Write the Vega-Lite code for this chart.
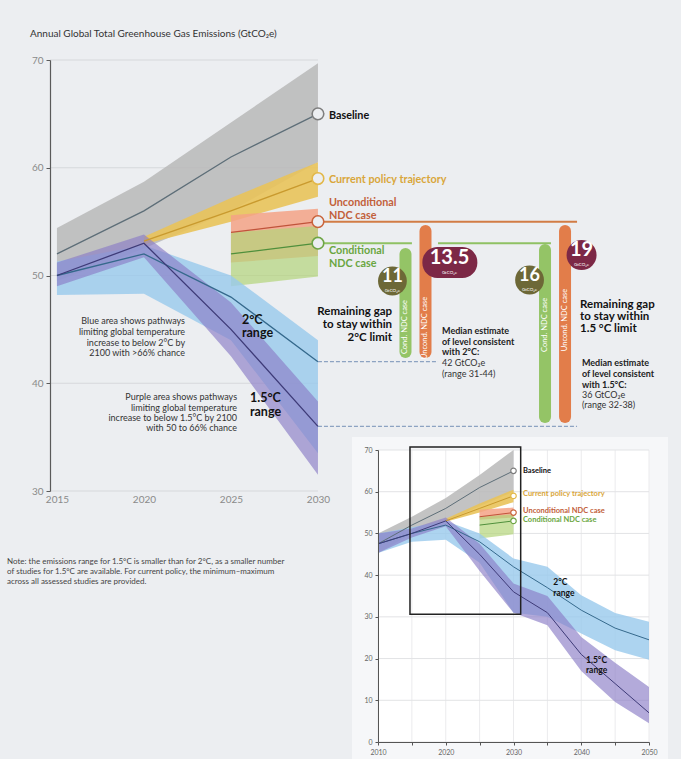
{
"$schema":"https://vega.github.io/schema/vega-lite/v6.json",
"width":631,"height":431,"padding":{"left":50,"top":60,"right":0,"bottom":268},"autosize":{"type":"none"},
"background":"#eceef1",
"config":{"view":{"stroke":null},"font":"Lato"},
"datasets":{
"m":[
{"s":"Baseline","x":2015,"lo":49.5,"m":52,"hi":54.4},
{"s":"Baseline","x":2020,"lo":52.5,"m":56,"hi":58.7},
{"s":"Baseline","x":2025,"lo":56,"m":61,"hi":64.2},
{"s":"Baseline","x":2030,"lo":60.5,"m":65,"hi":69.7},
{"s":"Current","x":2020,"lo":52.9,"m":53.2,"hi":53.6},
{"s":"Current","x":2025,"lo":55,"m":56,"hi":57.2},
{"s":"Current","x":2030,"lo":57.3,"m":59,"hi":60.5},
{"s":"Uncond","x":2025,"lo":51.2,"m":54,"hi":55.6},
{"s":"Uncond","x":2030,"lo":51.8,"m":55,"hi":56.2},
{"s":"Cond","x":2025,"lo":49,"m":52,"hi":54},
{"s":"Cond","x":2030,"lo":49.9,"m":53,"hi":54.6},
{"s":"2C","x":2015,"lo":48.2,"m":50,"hi":51.3},
{"s":"2C","x":2020,"lo":48.3,"m":52,"hi":52.8},
{"s":"2C","x":2025,"lo":44,"m":48,"hi":50},
{"s":"2C","x":2030,"lo":33.5,"m":42,"hi":44},
{"s":"1.5C","x":2015,"lo":49,"m":50,"hi":51.2},
{"s":"1.5C","x":2020,"lo":51.7,"m":53,"hi":53.8},
{"s":"1.5C","x":2025,"lo":42.5,"m":45,"hi":47.5},
{"s":"1.5C","x":2030,"lo":31.5,"m":36,"hi":38.3}
],
"i":[
{"s":"Baseline","x":2010,"lo":45.3,"m":47.5,"hi":50},
{"s":"Baseline","x":2015,"lo":50,"m":52,"hi":54},
{"s":"Baseline","x":2020,"lo":53,"m":56,"hi":58.5},
{"s":"Baseline","x":2025,"lo":56.5,"m":61,"hi":64},
{"s":"Baseline","x":2030,"lo":60,"m":65,"hi":70},
{"s":"Current","x":2020,"lo":52.8,"m":53,"hi":53.5},
{"s":"Current","x":2025,"lo":55,"m":56,"hi":57.2},
{"s":"Current","x":2030,"lo":57.5,"m":59,"hi":60.5},
{"s":"Uncond","x":2025,"lo":53.3,"m":54,"hi":55.7},
{"s":"Uncond","x":2030,"lo":53.8,"m":55,"hi":56.2},
{"s":"Cond","x":2025,"lo":48.8,"m":52,"hi":54},
{"s":"Cond","x":2030,"lo":49.8,"m":53,"hi":54.6},
{"s":"2C","x":2010,"lo":45.3,"m":47.5,"hi":50},
{"s":"2C","x":2015,"lo":48,"m":50,"hi":51.5},
{"s":"2C","x":2020,"lo":48.5,"m":52,"hi":53},
{"s":"2C","x":2025,"lo":43,"m":48,"hi":50},
{"s":"2C","x":2030,"lo":31,"m":42,"hi":44},
{"s":"2C","x":2035,"lo":30,"m":37,"hi":42},
{"s":"2C","x":2040,"lo":26,"m":31.6,"hi":35.2},
{"s":"2C","x":2045,"lo":22,"m":27.3,"hi":30.9},
{"s":"2C","x":2050,"lo":19.7,"m":24.5,"hi":28.8},
{"s":"1.5C","x":2010,"lo":45.3,"m":47.5,"hi":50},
{"s":"1.5C","x":2015,"lo":49,"m":50,"hi":51.2},
{"s":"1.5C","x":2020,"lo":51.7,"m":53,"hi":53.8},
{"s":"1.5C","x":2025,"lo":41,"m":45,"hi":47.5},
{"s":"1.5C","x":2030,"lo":31,"m":36,"hi":38},
{"s":"1.5C","x":2035,"lo":28,"m":31,"hi":35},
{"s":"1.5C","x":2040,"lo":17,"m":21,"hi":25.2},
{"s":"1.5C","x":2045,"lo":9.6,"m":14,"hi":19},
{"s":"1.5C","x":2050,"lo":4.5,"m":7,"hi":13.2}
],
"mk":[
{"s":"Baseline","x":2030,"y":65},
{"s":"Current","x":2030,"y":59},
{"s":"Uncond","x":2030,"y":55},
{"s":"Cond","x":2030,"y":53}
]
},
"layer":[
{"data":{"values":[{"y":30},{"y":40},{"y":50},{"y":60},{"y":70}]},
 "mark":{"type":"rule","color":"#d6d8db","strokeWidth":1},
 "encoding":{
  "x":{"datum":2014.6,"type":"quantitative","scale":{"domain":[2014.6,2050],"range":[0,615.96],"nice":false,"zero":false},"axis":null},
  "x2":{"datum":2030},
  "y":{"field":"y","type":"quantitative","scale":{"domain":[30,70],"range":[431,0],"nice":false,"zero":false},"axis":null}}},
{"data":{"name":"m"},"transform":[{"filter":"datum.s==='Baseline'"}],
 "mark":{"type":"area","color":"#b9b9b9","opacity":0.85},
 "encoding":{
  "x":{"field":"x","type":"quantitative","scale":{"domain":[2014.6,2050],"range":[0,615.96],"nice":false,"zero":false},"axis":null},
  "y":{"field":"lo","type":"quantitative","scale":{"domain":[30,70],"range":[431,0],"nice":false,"zero":false},"axis":null},
  "y2":{"field":"hi"}}},
{"data":{"name":"m"},"transform":[{"filter":"datum.s==='Current'"}],
 "mark":{"type":"area","color":"#e9c35a","opacity":0.9},
 "encoding":{
  "x":{"field":"x","type":"quantitative","scale":{"domain":[2014.6,2050],"range":[0,615.96],"nice":false,"zero":false},"axis":null},
  "y":{"field":"lo","type":"quantitative","scale":{"domain":[30,70],"range":[431,0],"nice":false,"zero":false},"axis":null},
  "y2":{"field":"hi"}}},
{"data":{"name":"m"},"transform":[{"filter":"datum.s==='Uncond'"}],
 "mark":{"type":"area","color":"#f4a286","opacity":0.85},
 "encoding":{
  "x":{"field":"x","type":"quantitative","scale":{"domain":[2014.6,2050],"range":[0,615.96],"nice":false,"zero":false},"axis":null},
  "y":{"field":"lo","type":"quantitative","scale":{"domain":[30,70],"range":[431,0],"nice":false,"zero":false},"axis":null},
  "y2":{"field":"hi"}}},
{"data":{"name":"m"},"transform":[{"filter":"datum.s==='Cond'"}],
 "mark":{"type":"area","color":"#b4d47a","opacity":0.7},
 "encoding":{
  "x":{"field":"x","type":"quantitative","scale":{"domain":[2014.6,2050],"range":[0,615.96],"nice":false,"zero":false},"axis":null},
  "y":{"field":"lo","type":"quantitative","scale":{"domain":[30,70],"range":[431,0],"nice":false,"zero":false},"axis":null},
  "y2":{"field":"hi"}}},
{"data":{"name":"m"},"transform":[{"filter":"datum.s==='2C'"}],
 "mark":{"type":"area","color":"#98c9ec","opacity":0.8},
 "encoding":{
  "x":{"field":"x","type":"quantitative","scale":{"domain":[2014.6,2050],"range":[0,615.96],"nice":false,"zero":false},"axis":null},
  "y":{"field":"lo","type":"quantitative","scale":{"domain":[30,70],"range":[431,0],"nice":false,"zero":false},"axis":null},
  "y2":{"field":"hi"}}},
{"data":{"name":"m"},"transform":[{"filter":"datum.s==='1.5C'"}],
 "mark":{"type":"area","color":"#8a7cc6","opacity":0.65},
 "encoding":{
  "x":{"field":"x","type":"quantitative","scale":{"domain":[2014.6,2050],"range":[0,615.96],"nice":false,"zero":false},"axis":null},
  "y":{"field":"lo","type":"quantitative","scale":{"domain":[30,70],"range":[431,0],"nice":false,"zero":false},"axis":null},
  "y2":{"field":"hi"}}},
{"data":{"name":"m"},
 "mark":{"type":"line","strokeWidth":1.3},
 "encoding":{
  "x":{"field":"x","type":"quantitative","scale":{"domain":[2014.6,2050],"range":[0,615.96],"nice":false,"zero":false},
   "axis":{"orient":"bottom","values":[2015,2020,2025,2030],"format":"d","title":null,"domain":false,"ticks":false,"grid":false,"labelColor":"#8a8a8a","labelFontSize":10,"labelPadding":3,"labelFlush":false,"zindex":1}},
  "y":{"field":"m","type":"quantitative","scale":{"domain":[30,70],"range":[431,0],"nice":false,"zero":false},
   "axis":{"orient":"left","values":[30,40,50,60,70],"title":null,"grid":false,"domainColor":"#5a5a5a","domainWidth":1.2,"tickColor":"#5a5a5a","tickSize":4,"labelColor":"#8a8a8a","labelFontSize":10,"labelPadding":3,"labelFlush":false,"zindex":1}},
  "color":{"field":"s","type":"nominal","legend":null,"scale":{"domain":["Baseline","Current","Uncond","Cond","2C","1.5C"],"range":["#5d6e78","#c99a2e","#c0533a","#4f8f3c","#35698c","#3e3b78"]}}}},
{"data":{"values":[{"x":2030,"x2":2036.9,"y":42},{"x":2030,"x2":2044.89,"y":36}]},
 "mark":{"type":"rule","color":"#8da3c2","strokeDash":[4,2],"strokeWidth":1.2},
 "encoding":{
  "x":{"field":"x","type":"quantitative","scale":{"domain":[2014.6,2050],"range":[0,615.96],"nice":false,"zero":false},"axis":null},
  "x2":{"field":"x2"},
  "y":{"field":"y","type":"quantitative","scale":{"domain":[30,70],"range":[431,0],"nice":false,"zero":false},"axis":null}}},
{"data":{"values":[{"x":2030,"x2":2044.89,"y":55}]},
 "mark":{"type":"rule","color":"#d27c45","strokeWidth":2},
 "encoding":{
  "x":{"field":"x","type":"quantitative","scale":{"domain":[2014.6,2050],"range":[0,615.96],"nice":false,"zero":false},"axis":null},
  "x2":{"field":"x2"},
  "y":{"field":"y","type":"quantitative","scale":{"domain":[30,70],"range":[431,0],"nice":false,"zero":false},"axis":null}}},
{"data":{"values":[{"x":2030,"x2":2035.4,"y":53},{"x":2036.9,"x2":2043.39,"y":53}]},
 "mark":{"type":"rule","color":"#8fc163","strokeWidth":2},
 "encoding":{
  "x":{"field":"x","type":"quantitative","scale":{"domain":[2014.6,2050],"range":[0,615.96],"nice":false,"zero":false},"axis":null},
  "x2":{"field":"x2"},
  "y":{"field":"y","type":"quantitative","scale":{"domain":[30,70],"range":[431,0],"nice":false,"zero":false},"axis":null}}},
{"data":{"values":[{"x":2035.03,"y":52.0,"y2":42.9},{"x":2043.05,"y":52.37,"y2":36.87}]},
 "mark":{"type":"rule","color":"#94c466","strokeWidth":12,"strokeCap":"round"},
 "encoding":{
  "x":{"field":"x","type":"quantitative","scale":{"domain":[2014.6,2050],"range":[0,615.96],"nice":false,"zero":false},"axis":null},
  "y":{"field":"y","type":"quantitative","scale":{"domain":[30,70],"range":[431,0],"nice":false,"zero":false},"axis":null},
  "y2":{"field":"y2"}}},
{"data":{"values":[{"x":2036.18,"y":54.13,"y2":42.9},{"x":2044.2,"y":54.13,"y2":36.87}]},
 "mark":{"type":"rule","color":"#e27d4a","strokeWidth":12,"strokeCap":"round"},
 "encoding":{
  "x":{"field":"x","type":"quantitative","scale":{"domain":[2014.6,2050],"range":[0,615.96],"nice":false,"zero":false},"axis":null},
  "y":{"field":"y","type":"quantitative","scale":{"domain":[30,70],"range":[431,0],"nice":false,"zero":false},"axis":null},
  "y2":{"field":"y2"}}},
{"data":{"values":[{"x":2035.03,"y":45.22,"t":"Cond. NDC case"},{"x":2036.18,"y":45.13,"t":"Uncond. NDC case"},{"x":2043.05,"y":45.41,"t":"Cond. NDC case"},{"x":2044.2,"y":45.87,"t":"Uncond. NDC case"}]},
 "mark":{"type":"text","angle":270,"color":"#ffffff","fontSize":7.5,"align":"center","baseline":"middle"},
 "encoding":{
  "x":{"field":"x","type":"quantitative","scale":{"domain":[2014.6,2050],"range":[0,615.96],"nice":false,"zero":false},"axis":null},
  "y":{"field":"y","type":"quantitative","scale":{"domain":[30,70],"range":[431,0],"nice":false,"zero":false},"axis":null},
  "text":{"field":"t"}}},
{"data":{"values":[{"x":2034.28,"y":49.49},{"x":2042.16,"y":49.58}]},
 "mark":{"type":"point","shape":"circle","filled":true,"color":"#6d6837","opacity":1,"size":830},
 "encoding":{
  "x":{"field":"x","type":"quantitative","scale":{"domain":[2014.6,2050],"range":[0,615.96],"nice":false,"zero":false},"axis":null},
  "y":{"field":"y","type":"quantitative","scale":{"domain":[30,70],"range":[431,0],"nice":false,"zero":false},"axis":null}}},
{"data":{"values":[{"x":2045.15,"y":51.9}]},
 "mark":{"type":"point","shape":"circle","filled":true,"color":"#7c2846","opacity":1,"size":900},
 "encoding":{
  "x":{"field":"x","type":"quantitative","scale":{"domain":[2014.6,2050],"range":[0,615.96],"nice":false,"zero":false},"axis":null},
  "y":{"field":"y","type":"quantitative","scale":{"domain":[30,70],"range":[431,0],"nice":false,"zero":false},"axis":null}}},
{"data":{"values":[{"x":2036.0,"x2":2039.16,"y":52.65,"y2":49.77}]},
 "mark":{"type":"rect","color":"#7c2846","cornerRadius":15},
 "encoding":{
  "x":{"field":"x","type":"quantitative","scale":{"domain":[2014.6,2050],"range":[0,615.96],"nice":false,"zero":false},"axis":null},
  "x2":{"field":"x2"},
  "y":{"field":"y","type":"quantitative","scale":{"domain":[30,70],"range":[431,0],"nice":false,"zero":false},"axis":null},
  "y2":{"field":"y2"}}},
{"data":{"values":[{"x":2034.28,"y":49.86,"t":"11"},{"x":2042.16,"y":49.95,"t":"16"}]},
 "mark":{"type":"text","color":"#ffffff","fontSize":18,"fontWeight":"bold","align":"center","baseline":"middle"},
 "encoding":{
  "x":{"field":"x","type":"quantitative","scale":{"domain":[2014.6,2050],"range":[0,615.96],"nice":false,"zero":false},"axis":null},
  "y":{"field":"y","type":"quantitative","scale":{"domain":[30,70],"range":[431,0],"nice":false,"zero":false},"axis":null},
  "text":{"field":"t"}}},
{"data":{"values":[{"x":2037.56,"y":51.62,"t":"13.5"},{"x":2045.15,"y":52.37,"t":"19"}]},
 "mark":{"type":"text","color":"#ffffff","fontSize":20,"fontWeight":"bold","align":"center","baseline":"middle"},
 "encoding":{
  "x":{"field":"x","type":"quantitative","scale":{"domain":[2014.6,2050],"range":[0,615.96],"nice":false,"zero":false},"axis":null},
  "y":{"field":"y","type":"quantitative","scale":{"domain":[30,70],"range":[431,0],"nice":false,"zero":false},"axis":null},
  "text":{"field":"t"}}},
{"data":{"values":[{"x":2034.28,"y":48.56,"t":"GtCO₂e"},{"x":2037.56,"y":50.23,"t":"GtCO₂e"},{"x":2042.16,"y":48.65,"t":"GtCO₂e"},{"x":2045.15,"y":50.97,"t":"GtCO₂e"}]},
 "mark":{"type":"text","color":"#ffffff","fontSize":4.5,"align":"center","baseline":"middle"},
 "encoding":{
  "x":{"field":"x","type":"quantitative","scale":{"domain":[2014.6,2050],"range":[0,615.96],"nice":false,"zero":false},"axis":null},
  "y":{"field":"y","type":"quantitative","scale":{"domain":[30,70],"range":[431,0],"nice":false,"zero":false},"axis":null},
  "text":{"field":"t"}}},
{"data":{"name":"mk"},
 "mark":{"type":"point","shape":"circle","filled":true,"fill":"#eceef1","opacity":1,"size":135,"strokeWidth":1.6},
 "encoding":{
  "x":{"field":"x","type":"quantitative","scale":{"domain":[2014.6,2050],"range":[0,615.96],"nice":false,"zero":false},"axis":null},
  "y":{"field":"y","type":"quantitative","scale":{"domain":[30,70],"range":[431,0],"nice":false,"zero":false},"axis":null},
  "stroke":{"field":"s","type":"nominal","legend":null,"scale":{"domain":["Baseline","Current","Uncond","Cond"],"range":["#7d7d7d","#e2b84a","#c9643c","#6ea545"]}}}},
{"data":{"values":[{"s":"Baseline","x":2030.63,"y":64.8,"t":"Baseline"},{"s":"Current","x":2030.63,"y":58.86,"t":"Current policy trajectory"},{"s":"Uncond","x":2030.63,"y":56.72,"t":"Unconditional"},{"s":"Uncond","x":2030.63,"y":55.56,"t":"NDC case"},{"s":"Cond","x":2030.63,"y":52.26,"t":"Conditional"},{"s":"Cond","x":2030.63,"y":51.1,"t":"NDC case"}]},
 "mark":{"type":"text","fontSize":10.8,"fontWeight":"bold","align":"left","baseline":"middle"},
 "encoding":{
  "x":{"field":"x","type":"quantitative","scale":{"domain":[2014.6,2050],"range":[0,615.96],"nice":false,"zero":false},"axis":null},
  "y":{"field":"y","type":"quantitative","scale":{"domain":[30,70],"range":[431,0],"nice":false,"zero":false},"axis":null},
  "text":{"field":"t"},
  "fill":{"field":"s","type":"nominal","legend":null,"scale":{"domain":["Baseline","Current","Uncond","Cond"],"range":["#111111","#d9a63a","#c2603a","#6aa641"]}}}},
{"data":{"values":[{"x":2034.26,"y":46.61,"t":"Remaining gap"},{"x":2034.26,"y":45.41,"t":"to stay within"},{"x":2034.26,"y":44.2,"t":"2°C limit"}]},
 "mark":{"type":"text","fontSize":11.5,"fontWeight":"bold","color":"#111111","align":"right","baseline":"middle"},
 "encoding":{
  "x":{"field":"x","type":"quantitative","scale":{"domain":[2014.6,2050],"range":[0,615.96],"nice":false,"zero":false},"axis":null},
  "y":{"field":"y","type":"quantitative","scale":{"domain":[30,70],"range":[431,0],"nice":false,"zero":false},"axis":null},
  "text":{"field":"t"}}},
{"data":{"values":[{"x":2045.06,"y":47.26,"t":"Remaining gap"},{"x":2045.06,"y":46.12,"t":"to stay within"},{"x":2045.06,"y":45.0,"t":"1.5 °C limit"}]},
 "mark":{"type":"text","fontSize":11.5,"fontWeight":"bold","color":"#111111","align":"left","baseline":"middle"},
 "encoding":{
  "x":{"field":"x","type":"quantitative","scale":{"domain":[2014.6,2050],"range":[0,615.96],"nice":false,"zero":false},"axis":null},
  "y":{"field":"y","type":"quantitative","scale":{"domain":[30,70],"range":[431,0],"nice":false,"zero":false},"axis":null},
  "text":{"field":"t"}}},
{"data":{"values":[{"x":2037.13,"y":44.85,"t":"Median estimate"},{"x":2037.13,"y":43.86,"t":"of level consistent"},{"x":2037.13,"y":42.86,"t":"with 2°C:"},{"x":2045.17,"y":41.85,"t":"Median estimate"},{"x":2045.17,"y":40.86,"t":"of level consistent"},{"x":2045.17,"y":39.88,"t":"with 1.5°C:"}]},
 "mark":{"type":"text","fontSize":9,"fontWeight":"bold","color":"#222222","align":"left","baseline":"middle"},
 "encoding":{
  "x":{"field":"x","type":"quantitative","scale":{"domain":[2014.6,2050],"range":[0,615.96],"nice":false,"zero":false},"axis":null},
  "y":{"field":"y","type":"quantitative","scale":{"domain":[30,70],"range":[431,0],"nice":false,"zero":false},"axis":null},
  "text":{"field":"t"}}},
{"data":{"values":[{"x":2037.13,"y":41.87,"t":"42 GtCO₂e"},{"x":2037.13,"y":40.88,"t":"(range 31-44)"},{"x":2045.17,"y":38.91,"t":"36 GtCO₂e"},{"x":2045.17,"y":37.94,"t":"(range 32-38)"}]},
 "mark":{"type":"text","fontSize":9,"color":"#333333","align":"left","baseline":"middle"},
 "encoding":{
  "x":{"field":"x","type":"quantitative","scale":{"domain":[2014.6,2050],"range":[0,615.96],"nice":false,"zero":false},"axis":null},
  "y":{"field":"y","type":"quantitative","scale":{"domain":[30,70],"range":[431,0],"nice":false,"zero":false},"axis":null},
  "text":{"field":"t"}}},
{"data":{"values":[{"x":2025.63,"y":45.9,"t":"2°C"},{"x":2025.63,"y":44.63,"t":"range"},{"x":2026.09,"y":38.66,"t":"1.5°C"},{"x":2026.09,"y":37.3,"t":"range"}]},
 "mark":{"type":"text","fontSize":12.5,"fontWeight":"bold","color":"#111111","align":"left","baseline":"middle"},
 "encoding":{
  "x":{"field":"x","type":"quantitative","scale":{"domain":[2014.6,2050],"range":[0,615.96],"nice":false,"zero":false},"axis":null},
  "y":{"field":"y","type":"quantitative","scale":{"domain":[30,70],"range":[431,0],"nice":false,"zero":false},"axis":null},
  "text":{"field":"t"}}},
{"data":{"values":[{"x":2022.36,"y":45.78,"t":"Blue area shows pathways"},{"x":2022.36,"y":44.76,"t":"limiting global temperature"},{"x":2022.36,"y":43.74,"t":"increase to below 2°C by"},{"x":2022.36,"y":42.81,"t":"2100 with >66% chance"},{"x":2025.35,"y":38.72,"t":"Purple area shows pathways"},{"x":2025.35,"y":37.7,"t":"limiting global temperature"},{"x":2025.35,"y":36.77,"t":"increase to below 1.5°C by 2100"},{"x":2025.35,"y":35.85,"t":"with 50 to 66% chance"}]},
 "mark":{"type":"text","fontSize":9,"color":"#333333","align":"right","baseline":"middle"},
 "encoding":{
  "x":{"field":"x","type":"quantitative","scale":{"domain":[2014.6,2050],"range":[0,615.96],"nice":false,"zero":false},"axis":null},
  "y":{"field":"y","type":"quantitative","scale":{"domain":[30,70],"range":[431,0],"nice":false,"zero":false},"axis":null},
  "text":{"field":"t"}}},
{"data":{"values":[{"x":2012.13,"y":23.44,"t":"Note: the emissions range for 1.5°C is smaller than for 2°C, as a smaller number"},{"x":2012.13,"y":22.45,"t":"of studies for 1.5°C are available. For current policy, the minimum–maximum"},{"x":2012.13,"y":21.53,"t":"across all assessed studies are provided."}]},
 "mark":{"type":"text","fontSize":8,"color":"#444444","align":"left","baseline":"middle"},
 "encoding":{
  "x":{"field":"x","type":"quantitative","scale":{"domain":[2014.6,2050],"range":[0,615.96],"nice":false,"zero":false},"axis":null},
  "y":{"field":"y","type":"quantitative","scale":{"domain":[30,70],"range":[431,0],"nice":false,"zero":false},"axis":null},
  "text":{"field":"t"}}},
{"data":{"values":[{"x":2013.45,"y":72.41,"t":"Annual Global Total Greenhouse Gas Emissions (GtCO₂e)"}]},
 "mark":{"type":"text","fontSize":10,"color":"#333333","align":"left","baseline":"middle"},
 "encoding":{
  "x":{"field":"x","type":"quantitative","scale":{"domain":[2014.6,2050],"range":[0,615.96],"nice":false,"zero":false},"axis":null},
  "y":{"field":"y","type":"quantitative","scale":{"domain":[30,70],"range":[431,0],"nice":false,"zero":false},"axis":null},
  "text":{"field":"t"}}},
{"data":{"values":[{"a":1}]},
 "mark":{"type":"rect","color":"#f6f7f9"},
 "encoding":{
  "x":{"datum":2006.16,"type":"quantitative","scale":{"domain":[2010,2050],"range":[328,599],"nice":false,"zero":false},"axis":null},
  "x2":{"datum":2052.8},
  "y":{"datum":73.12,"type":"quantitative","scale":{"domain":[0,70],"range":[682,390],"nice":false,"zero":false},"axis":null},
  "y2":{"datum":-4.08}}},
{"data":{"values":[{"a":1}]},
 "mark":{"type":"rect","color":"#ffffff"},
 "encoding":{
  "x":{"datum":2010,"type":"quantitative","scale":{"domain":[2010,2050],"range":[328,599],"nice":false,"zero":false},"axis":null},
  "x2":{"datum":2050},
  "y":{"datum":0,"type":"quantitative","scale":{"domain":[0,70],"range":[682,390],"nice":false,"zero":false},"axis":null},
  "y2":{"datum":70}}},
{"data":{"values":[{"x":2010},{"x":2015},{"x":2020},{"x":2025},{"x":2030},{"x":2035},{"x":2040},{"x":2045},{"x":2050}]},
 "mark":{"type":"rule","color":"#ebebed","strokeWidth":1},
 "encoding":{
  "x":{"field":"x","type":"quantitative","scale":{"domain":[2010,2050],"range":[328,599],"nice":false,"zero":false},"axis":null},
  "y":{"datum":0,"type":"quantitative","scale":{"domain":[0,70],"range":[682,390],"nice":false,"zero":false},"axis":null},
  "y2":{"datum":70}}},
{"data":{"values":[{"y":0},{"y":10},{"y":20},{"y":30},{"y":40},{"y":50},{"y":60},{"y":70}]},
 "mark":{"type":"rule","color":"#e2e3e5","strokeWidth":1},
 "encoding":{
  "y":{"field":"y","type":"quantitative","scale":{"domain":[0,70],"range":[682,390],"nice":false,"zero":false},"axis":null},
  "x":{"datum":2010,"type":"quantitative","scale":{"domain":[2010,2050],"range":[328,599],"nice":false,"zero":false},"axis":null},
  "x2":{"datum":2050}}},
{"data":{"name":"i"},"transform":[{"filter":"datum.s==='Baseline'"}],
 "mark":{"type":"area","color":"#b9b9b9","opacity":0.85},
 "encoding":{
  "x":{"field":"x","type":"quantitative","scale":{"domain":[2010,2050],"range":[328,599],"nice":false,"zero":false},"axis":null},
  "y":{"field":"lo","type":"quantitative","scale":{"domain":[0,70],"range":[682,390],"nice":false,"zero":false},"axis":null},
  "y2":{"field":"hi"}}},
{"data":{"name":"i"},"transform":[{"filter":"datum.s==='Current'"}],
 "mark":{"type":"area","color":"#e9c35a","opacity":0.9},
 "encoding":{
  "x":{"field":"x","type":"quantitative","scale":{"domain":[2010,2050],"range":[328,599],"nice":false,"zero":false},"axis":null},
  "y":{"field":"lo","type":"quantitative","scale":{"domain":[0,70],"range":[682,390],"nice":false,"zero":false},"axis":null},
  "y2":{"field":"hi"}}},
{"data":{"name":"i"},"transform":[{"filter":"datum.s==='Uncond'"}],
 "mark":{"type":"area","color":"#f4a286","opacity":0.85},
 "encoding":{
  "x":{"field":"x","type":"quantitative","scale":{"domain":[2010,2050],"range":[328,599],"nice":false,"zero":false},"axis":null},
  "y":{"field":"lo","type":"quantitative","scale":{"domain":[0,70],"range":[682,390],"nice":false,"zero":false},"axis":null},
  "y2":{"field":"hi"}}},
{"data":{"name":"i"},"transform":[{"filter":"datum.s==='Cond'"}],
 "mark":{"type":"area","color":"#b4d47a","opacity":0.7},
 "encoding":{
  "x":{"field":"x","type":"quantitative","scale":{"domain":[2010,2050],"range":[328,599],"nice":false,"zero":false},"axis":null},
  "y":{"field":"lo","type":"quantitative","scale":{"domain":[0,70],"range":[682,390],"nice":false,"zero":false},"axis":null},
  "y2":{"field":"hi"}}},
{"data":{"name":"i"},"transform":[{"filter":"datum.s==='2C'"}],
 "mark":{"type":"area","color":"#98c9ec","opacity":0.8},
 "encoding":{
  "x":{"field":"x","type":"quantitative","scale":{"domain":[2010,2050],"range":[328,599],"nice":false,"zero":false},"axis":null},
  "y":{"field":"lo","type":"quantitative","scale":{"domain":[0,70],"range":[682,390],"nice":false,"zero":false},"axis":null},
  "y2":{"field":"hi"}}},
{"data":{"name":"i"},"transform":[{"filter":"datum.s==='1.5C'"}],
 "mark":{"type":"area","color":"#8a7cc6","opacity":0.65},
 "encoding":{
  "x":{"field":"x","type":"quantitative","scale":{"domain":[2010,2050],"range":[328,599],"nice":false,"zero":false},"axis":null},
  "y":{"field":"lo","type":"quantitative","scale":{"domain":[0,70],"range":[682,390],"nice":false,"zero":false},"axis":null},
  "y2":{"field":"hi"}}},
{"data":{"name":"i"},
 "mark":{"type":"line","strokeWidth":1},
 "encoding":{
  "x":{"field":"x","type":"quantitative","scale":{"domain":[2010,2050],"range":[328,599],"nice":false,"zero":false},
   "axis":{"orient":"bottom","offset":251,"values":[2010,2015,2020,2025,2030,2035,2040,2045,2050],"format":"d","labelExpr":"datum.value % 10 === 0 ? datum.label : ''","title":null,"grid":false,"domainColor":"#555555","tickColor":"#555555","tickSize":3,"labelFontSize":7,"labelColor":"#666666","labelPadding":3,"labelFlush":false,"labelOverlap":false,"zindex":1}},
  "y":{"field":"m","type":"quantitative","scale":{"domain":[0,70],"range":[682,390],"nice":false,"zero":false},
   "axis":{"orient":"left","translate":328.5,"position":-328,"values":[0,10,20,30,40,50,60,70],"title":null,"grid":false,"domainColor":"#555555","tickColor":"#555555","tickSize":3,"labelFontSize":7,"labelColor":"#666666","labelPadding":3,"labelFlush":false,"labelOverlap":false,"zindex":1}},
  "color":{"field":"s","type":"nominal","legend":null,"scale":{"domain":["Baseline","Current","Uncond","Cond","2C","1.5C"],"range":["#5d6e78","#c99a2e","#c0533a","#4f8f3c","#35698c","#3e3b78"]}}}},
{"data":{"name":"mk"},
 "mark":{"type":"point","shape":"circle","filled":true,"fill":"#ffffff","opacity":1,"size":30,"strokeWidth":1.2},
 "encoding":{
  "x":{"field":"x","type":"quantitative","scale":{"domain":[2010,2050],"range":[328,599],"nice":false,"zero":false},"axis":null},
  "y":{"field":"y","type":"quantitative","scale":{"domain":[0,70],"range":[682,390],"nice":false,"zero":false},"axis":null},
  "stroke":{"field":"s","type":"nominal","legend":null,"scale":{"domain":["Baseline","Current","Uncond","Cond"],"range":["#7d7d7d","#e2b84a","#c9643c","#6ea545"]}}}},
{"data":{"values":[{"x":2014.72,"x2":2031.06,"y":70.73,"y2":30.62}]},
 "mark":{"type":"rect","filled":false,"stroke":"#222222","strokeWidth":1.5},
 "encoding":{
  "x":{"field":"x","type":"quantitative","scale":{"domain":[2010,2050],"range":[328,599],"nice":false,"zero":false},"axis":null},
  "x2":{"field":"x2"},
  "y":{"field":"y","type":"quantitative","scale":{"domain":[0,70],"range":[682,390],"nice":false,"zero":false},"axis":null},
  "y2":{"field":"y2"}}},
{"data":{"values":[{"s":"Baseline","x":2031.4,"y":65.05,"t":"Baseline"},{"s":"Current","x":2031.4,"y":59.46,"t":"Current policy trajectory"},{"s":"Uncond","x":2031.4,"y":55.38,"t":"Unconditional NDC case"},{"s":"Cond","x":2031.4,"y":53.22,"t":"Conditional NDC case"}]},
 "mark":{"type":"text","fontSize":7.5,"fontWeight":"bold","align":"left","baseline":"middle"},
 "encoding":{
  "x":{"field":"x","type":"quantitative","scale":{"domain":[2010,2050],"range":[328,599],"nice":false,"zero":false},"axis":null},
  "y":{"field":"y","type":"quantitative","scale":{"domain":[0,70],"range":[682,390],"nice":false,"zero":false},"axis":null},
  "text":{"field":"t"},
  "fill":{"field":"s","type":"nominal","legend":null,"scale":{"domain":["Baseline","Current","Uncond","Cond"],"range":["#111111","#d9a63a","#c2603a","#6aa641"]}}}},
{"data":{"values":[{"x":2035.88,"y":38.44,"t":"2°C"},{"x":2035.88,"y":35.65,"t":"range"},{"x":2040.7,"y":19.66,"t":"1.5°C"},{"x":2040.7,"y":17.26,"t":"range"}]},
 "mark":{"type":"text","fontSize":8.5,"fontWeight":"bold","color":"#111111","align":"left","baseline":"middle"},
 "encoding":{
  "x":{"field":"x","type":"quantitative","scale":{"domain":[2010,2050],"range":[328,599],"nice":false,"zero":false},"axis":null},
  "y":{"field":"y","type":"quantitative","scale":{"domain":[0,70],"range":[682,390],"nice":false,"zero":false},"axis":null},
  "text":{"field":"t"}}}
]
,
"resolve":{"scale":{"x":"independent","y":"independent"}}
}
